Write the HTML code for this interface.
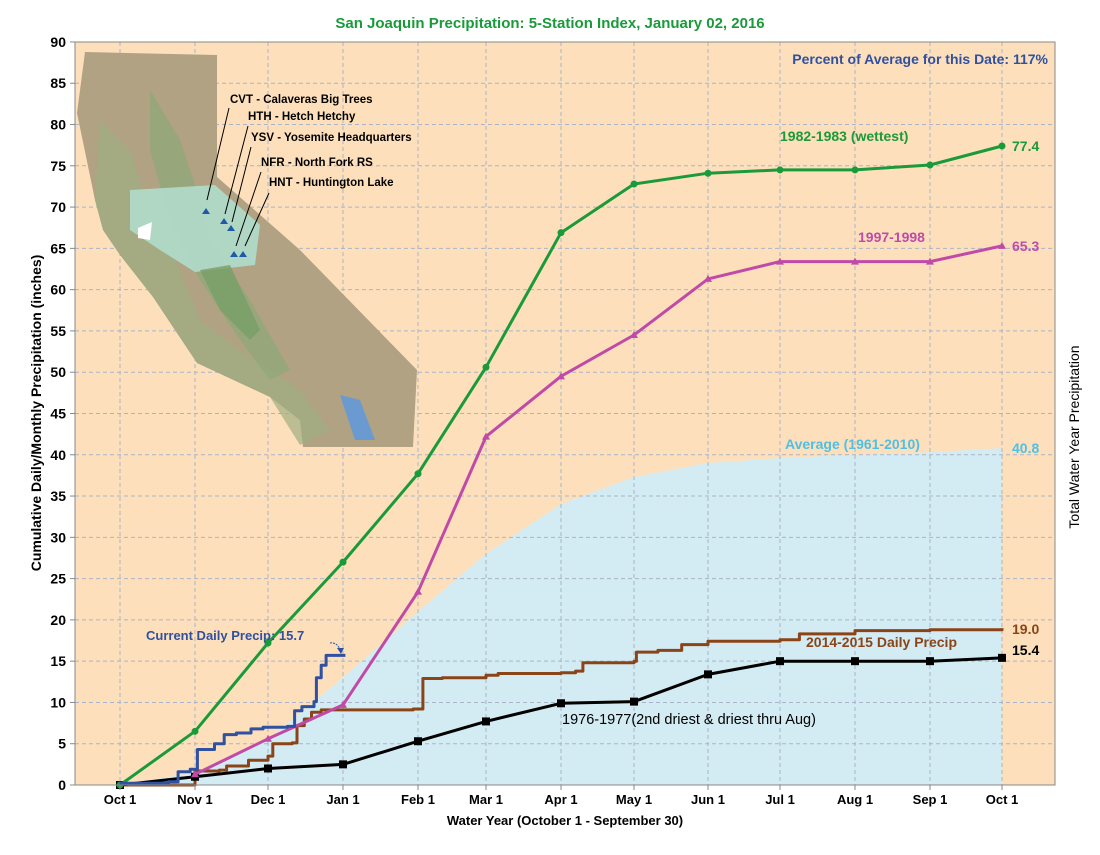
<!DOCTYPE html>
<html><head><meta charset="utf-8"><style>
body{margin:0;background:#fff}
svg{font-family:"Liberation Sans",Arial,sans-serif;font-weight:bold}
</style></head><body>
<svg id="s" width="1100" height="850" viewBox="0 0 1100 850" xmlns="http://www.w3.org/2000/svg">
<rect x="0" y="0" width="1100" height="850" fill="#fff"/>
<rect x="75" y="42" width="980" height="743" fill="#fde0bb"/>
<path id="avg" fill="#d3ecf3" stroke="none"/>
<g id="grid" stroke="#a9b4c8" stroke-width="1" stroke-dasharray="4,3"></g>
<g id="map">
<path d="M85,52 L217,55 L217,177 L300,250 L417,370 L413,447 L303,447 L300,420 L270,397 L197,363 L153,297 L120,255 L103,230 L95,200 L77,113 Z" fill="#b0a283"/>
<path d="M100,120 L130,150 L150,210 L180,270 L200,320 L240,350 L300,390 L330,430 L300,445 L270,397 L197,363 L153,297 L120,255 L103,230 L95,200 Z" fill="#9fae80" opacity="0.7"/>
<path d="M150,90 L180,140 L200,200 L210,240 L250,300 L290,370 L270,380 L240,340 L200,280 L170,220 L150,150 Z" fill="#8fa878" opacity="0.7"/>
<path d="M130,190 L215,185 L260,225 L255,265 L195,272 L160,250 L130,230 Z" fill="#b0dccb" opacity="0.9"/>
<path d="M200,270 L230,265 L260,330 L250,340 L220,310 Z" fill="#789f68" opacity="0.8"/>
<path d="M340,395 L360,400 L375,440 L355,440 Z" fill="#6a9ad0"/>
<path d="M138,228 L152,222 L150,240 L138,238 Z" fill="#fff"/>
<g fill="#1f5aa8">
<polygon points="206,208 202,214 210,214"/><polygon points="224,218 220,224 228,224"/><polygon points="231,225 227,231 235,231"/><polygon points="234,251 230,257 238,257"/><polygon points="243,251 239,257 247,257"/>
</g>
<g stroke="#000" stroke-width="1" fill="none">
<line x1="229" y1="108" x2="207" y2="200"/><line x1="248" y1="126" x2="225" y2="214"/><line x1="251" y1="147" x2="232" y2="222"/><line x1="261" y1="172" x2="236" y2="246"/><line x1="269" y1="193" x2="245" y2="246"/>
</g>
<g font-size="11.5" fill="#000">
<text x="230" y="103">CVT - Calaveras Big Trees</text>
<text x="248" y="120">HTH - Hetch Hetchy</text>
<text x="251" y="141">YSV - Yosemite Headquarters</text>
<text x="261" y="166">NFR - North Fork RS</text>
<text x="269" y="186">HNT - Huntington Lake</text>
</g>
</g>
<g id="series" fill="none" stroke-width="3" stroke-linejoin="round"></g>
<rect x="75" y="42" width="980" height="743" fill="none" stroke="#888" stroke-width="1"/>
<g id="ticks" font-size="13" fill="#000"></g>
<text x="550" y="28" text-anchor="middle" font-size="15" fill="#1a9a3a">San Joaquin Precipitation: 5-Station Index, January 02, 2016</text>
<text x="1048" y="64" text-anchor="end" font-size="14" fill="#3050a0">Percent of Average for this Date: 117%</text>
<text x="565" y="825" text-anchor="middle" font-size="13">Water Year (October 1 - September 30)</text>
<text transform="translate(41,413) rotate(-90)" text-anchor="middle" font-size="14">Cumulative Daily/Monthly Precipitation (inches)</text>
<text transform="translate(1079,437) rotate(-90)" text-anchor="middle" font-size="14" font-weight="normal">Total Water Year Precipitation</text>
<g font-size="14">
<text x="780" y="141" fill="#1a9a3a">1982-1983 (wettest)</text>
<text x="1012" y="151" fill="#1a9a3a">77.4</text>
<text x="858" y="242" fill="#c04aa8">1997-1998</text>
<text x="1012" y="251" fill="#c04aa8">65.3</text>
<text x="785" y="449" fill="#4cc0e8">Average (1961-2010)</text>
<text x="1012" y="453" fill="#4cc0e8">40.8</text>
<text x="806" y="647" fill="#8a4418">2014-2015 Daily Precip</text>
<text x="1012" y="634" fill="#8a4418">19.0</text>
<text x="1012" y="655" fill="#000">15.4</text>
<text x="562" y="724" fill="#000" font-weight="normal" font-size="14.5">1976-1977(2nd driest &amp; driest thru Aug)</text>
<text x="146" y="640" fill="#3050a0" font-size="13">Current Daily Precip: 15.7</text>
</g>
<path d="M330,643 Q338,642 341,652" stroke="#3050a0" fill="none" stroke-dasharray="2,1"/>
<polygon points="341,654 337,648 344,648" fill="#3050a0"/>
</svg>
<script>
var M=[120,195,268,343,418,486,561,634,708,780,855,930,1002];
var DM=[31,30,31,31,28,31,30,31,30,31,31,30];
function X(m,d){d=d||0;var i=Math.floor(m);if(!d)return M[i];return M[i]+(M[i+1]-M[i])*d/DM[i];}
function Y(v){return 785-8.256*v;}
var NS="http://www.w3.org/2000/svg",s=document.getElementById('s');
function el(p,t,a){var e=document.createElementNS(NS,t);for(var k in a)e.setAttribute(k,a[k]);p.appendChild(e);return e;}
var g=document.getElementById('grid'),tk=document.getElementById('ticks');
var labs=["Oct 1","Nov 1","Dec 1","Jan 1","Feb 1","Mar 1","Apr 1","May 1","Jun 1","Jul 1","Aug 1","Sep 1","Oct 1"];
for(var i=0;i<13;i++){el(g,'line',{x1:M[i],x2:M[i],y1:42,y2:785});el(s,'line',{x1:M[i],x2:M[i],y1:785,y2:790,stroke:'#888'});var t=el(tk,'text',{x:M[i],y:804,'text-anchor':'middle'});t.textContent=labs[i];}
for(var v=0;v<=90;v+=5){var y=Y(v);if(v>0)el(g,'line',{x1:75,x2:1055,y1:y,y2:y});el(s,'line',{x1:70,x2:75,y1:y,y2:y,stroke:'#888'});var t=el(tk,'text',{x:66,y:y+5,'text-anchor':'end','font-size':14});t.textContent=v;}
var avg=[0,1.5,5.5,13,21,28,34,37.3,39,39.6,40,40.3,40.8];
var d="M120,785";for(var i=0;i<13;i++)d+=" L"+M[i]+","+Y(avg[i]);d+=" L1002,785 Z";document.getElementById('avg').setAttribute('d',d);
var ser=document.getElementById('series');
function line(pts,c,mk){var d="";pts.forEach(function(p,i){d+=(i?" L":"M")+p[0].toFixed(1)+","+Y(p[1]).toFixed(1);});el(ser,'path',{d:d,stroke:c});
 if(mk)pts.forEach(function(p){var x=p[0],y=Y(p[1]);if(mk=='c')el(ser,'circle',{cx:x,cy:y,r:3.5,fill:c,stroke:'none'});else if(mk=='s')el(ser,'rect',{x:x-4,y:y-4,width:8,height:8,fill:c,stroke:'none'});else el(ser,'polygon',{points:(x-4)+","+(y+3)+" "+(x+4)+","+(y+3)+" "+x+","+(y-4),fill:c,stroke:'none'});});}
function mon(v,s){return v.map(function(a,i){return [M[i+(s||0)],a];});}
function st(arr){var out=[];arr.forEach(function(a,i){var x=X(a[0],a[1]);if(i>0)out.push([x,out[out.length-1][1]]);out.push([x,a[2]]);});return out;}
line(st([[0,0,0],[0,25,0],[0,30,0],[1,0,1.7],[1,10,1.8],[1,13,2.3],[1,20,2.3],[1,22,3.0],[1,28,3.0],[2,0,3.5],[2,2,5.0],[2,10,5.1],[2,12,7.2],[2,15,8.0],[2,18,8.8],[2,22,9.1],[3,0,9.1],[3,29,9.2],[4,2,12.9],[4,10,13.0],[5,0,13.3],[5,5,13.5],[6,0,13.6],[6,6,13.8],[6,9,14.8],[7,0,15.0],[7,1,16.1],[7,10,16.3],[7,20,17.0],[8,0,17.4],[9,0,17.6],[9,8,18.3],[10,0,18.7],[11,0,18.8],[12,0,19.0]]),'#8a4418');
line(mon([0,1.0,2.0,2.5,5.3,7.7,9.9,10.1,13.4,15.0,15.0,15.0,15.4]),'#000','s');
line(mon([1.3,5.6,9.7,23.4,42.2,49.5,54.5,61.3,63.4,63.4,63.4,65.3],1),'#c04aa8','t');
line(mon([0,6.5,17.2,27,37.7,50.6,66.9,72.8,74.1,74.5,74.5,75.1,77.4]),'#1a9a3a','c');
line(st([[0,0,0.2],[0,20,0.4],[0,24,1.6],[0,29,1.9],[1,1,4.3],[1,8,5.0],[1,12,6.1],[1,17,6.3],[1,23,6.8],[1,28,7.0],[2,8,7.1],[2,11,9.0],[2,14,9.5],[2,19,10.1],[2,20,13.0],[2,22,14.5],[2,24,15.7],[3,1,15.7]]),'#3050a0');
</script>
</body></html>
